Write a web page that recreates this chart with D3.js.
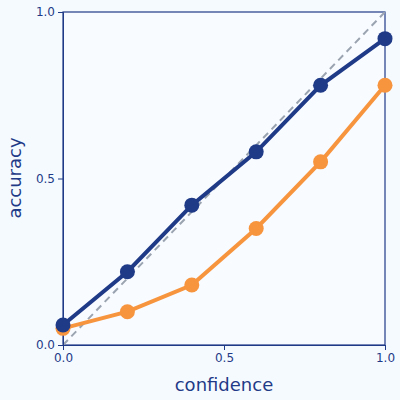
<!DOCTYPE html>
<html><head><meta charset="utf-8">
<script src="https://cdn.jsdelivr.net/npm/d3@7"></script>
<style>body{margin:0;background:#f5faff;}svg{display:block;}</style>
</head><body>
<svg id="chart" width="400" height="400"></svg>
<script>
// reliability diagram values
var confidence = [0, 0.2, 0.4, 0.6, 0.8, 1.0];
var accuracyBlue = [0.06, 0.22, 0.42, 0.58, 0.78, 0.92];
var accuracyOrange = [0.05, 0.10, 0.18, 0.35, 0.55, 0.78];
var tickValues = [0, 0.5, 1.0];

var navy = "#1f3a87", orange = "#f7943e";
var svg = d3.select("#chart");
var x = d3.scaleLinear().domain([0, 1]).range([63, 385]);
var y = d3.scaleLinear().domain([0, 1]).range([345, 12]);

svg.append("rect").attr("x", 63).attr("y", 12).attr("width", 322).attr("height", 333)
	.attr("fill", "#f8fbff").attr("stroke", navy).attr("stroke-width", 1.2);

// diagonal reference
svg.append("line").attr("x1", x(0)).attr("y1", y(0)).attr("x2", x(1)).attr("y2", y(1))
	.attr("stroke", "#9aa3b0").attr("stroke-width", 2).attr("stroke-dasharray", "7,5");

var xAxis = svg.append("g").attr("transform", "translate(0,345)")
	.call(d3.axisBottom(x).tickValues(tickValues).tickFormat(d3.format(".1f")).tickSize(5));
var yAxis = svg.append("g").attr("transform", "translate(63,0)")
	.call(d3.axisLeft(y).tickValues(tickValues).tickFormat(d3.format(".1f")).tickSize(5));
[xAxis, yAxis].forEach(function(a){
	a.select(".domain").attr("stroke", navy);
	a.selectAll(".tick line").attr("stroke", navy);
	a.selectAll("text").attr("fill", navy).attr("font-family", "DejaVu Sans").attr("font-size", 12);
});

svg.append("text").attr("x", 224).attr("y", 391).attr("text-anchor", "middle")
	.attr("fill", navy).attr("font-family", "DejaVu Sans").attr("font-size", 18).text("confidence");
svg.append("text").attr("transform", "translate(21,178) rotate(-90)").attr("text-anchor", "middle")
	.attr("fill", navy).attr("font-family", "DejaVu Sans").attr("font-size", 18).text("accuracy");

function drawSeries(vals, color){
	var pts = confidence.map(function(c, i){ return [c, vals[i]]; });
	svg.append("path").datum(pts)
		.attr("d", d3.line().x(function(d){return x(d[0]);}).y(function(d){return y(d[1]);}))
		.attr("fill", "none").attr("stroke", color).attr("stroke-width", 4);
	svg.selectAll(null).data(pts).enter().append("circle")
		.attr("cx", function(d){return x(d[0]);}).attr("cy", function(d){return y(d[1]);})
		.attr("r", 7.5).attr("fill", color);
}
drawSeries(accuracyOrange, orange);
drawSeries(accuracyBlue, navy);
</script>
</body></html>
